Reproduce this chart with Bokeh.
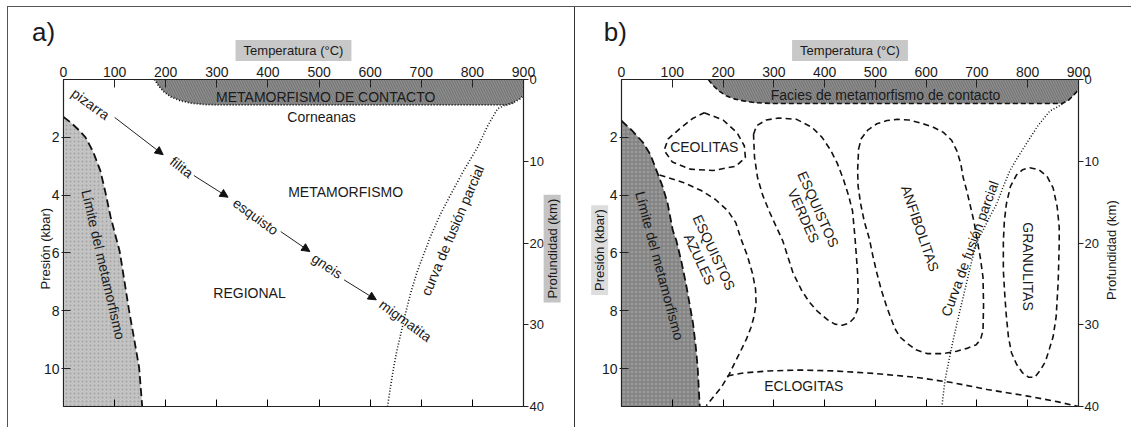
from bokeh.plotting import figure
from bokeh.models import (Range1d, LinearAxis, FixedTicker, Label, Arrow,
                          NormalHead, ColumnDataSource)
from bokeh.layouts import row
from bokeh.embed import file_html
from bokeh.resources import INLINE
from bokeh.core.properties import value

FONT = "Liberation Sans"
TXT = "#1a1a1a"

# ---------------- axes ----------------
temp_ticks = [0, 100, 200, 300, 400, 500, 600, 700, 800, 900]
inner_ticks = [100, 200, 300, 400, 500, 600, 700, 800]
pres_ticks = [2, 4, 6, 8, 10]
depth_ticks = [0, 10, 20, 30, 40]
T_MAX = 900
P_MAX = 11.31
D_MAX = 40

# ---------------- panel a data ----------------
a_limit_T = [0, 15, 30, 43, 58, 72, 82, 92, 101, 110, 119, 128, 138, 148, 154]
a_limit_P = [1.3, 1.5, 1.75, 2.0, 2.5, 3.15, 3.9, 4.74, 5.35, 5.95, 6.95, 7.96, 8.95, 9.97, 11.31]

a_contact_T = [178, 186, 196, 210, 228, 250, 280, 320, 865, 880, 893, 900]
a_contact_P = [0.0, 0.22, 0.42, 0.6, 0.73, 0.82, 0.87, 0.88, 0.88, 0.8, 0.67, 0.55]

a_melt_T = [880, 862, 849, 830, 810, 783, 760, 738, 720, 705, 691, 679, 669, 660, 652, 646, 640, 634]
a_melt_P = [0.82, 0.9, 1.02, 1.6, 2.35, 3.15, 3.9, 4.64, 5.35, 6.03, 6.7, 7.4, 8.1, 8.79, 9.4, 9.96, 10.6, 11.31]

path_names = ["pizarra", "filita", "esquisto", "gneis", "migmatita"]
path_T = [53, 231, 376, 516, 669]
path_P = [0.85, 3.03, 4.74, 6.45, 8.34]
path_angle = [-36, -38, -36, -34, -36]

arrow_T0 = [100, 255, 425, 549]
arrow_P0 = [1.31, 3.32, 5.26, 6.93]
arrow_T1 = [195, 322, 482, 612]
arrow_P1 = [2.6, 4.07, 5.95, 7.62]

a_label_text = ["METAMORFISMO DE CONTACTO", "Corneanas", "METAMORFISMO", "REGIONAL",
                "Límite del metamorfismo", "curva de fusión parcial"]
a_label_T = [513, 505, 552, 364, 78, 761]
a_label_P = [0.6, 1.31, 3.88, 7.4, 6.4, 5.22]
a_label_angle = [0, 0, 0, 0, -77, 67]

# ---------------- panel b data ----------------
b_limit_T = [0, 3, 20, 42, 57, 69, 81, 91, 101, 108, 118, 127, 134, 141, 146, 150, 154]
b_limit_P = [1.42, 1.48, 1.75, 2.17, 2.6, 3.15, 3.7, 4.3, 5.22, 5.57, 6.3, 7.07, 7.75, 8.45, 9.2, 9.95, 11.31]

b_contact_T = [171, 180, 192, 206, 222, 240, 262, 295, 868, 880, 890, 900]
b_contact_P = [0.0, 0.2, 0.4, 0.56, 0.67, 0.74, 0.8, 0.83, 0.83, 0.72, 0.55, 0.35]

b_melt_T = [868, 855, 843, 820, 798, 780, 765, 752, 739, 725, 712, 700, 688, 676, 665, 653, 645, 637, 631]
b_melt_P = [0.85, 0.98, 1.1, 1.6, 2.2, 2.7, 3.15, 3.7, 4.3, 4.75, 5.22, 5.6, 6.4, 7.3, 8.1, 9.03, 9.7, 10.41, 11.31]

ceol_T = [163, 200, 228, 242, 244, 225, 180, 135, 100, 84, 92, 115, 140, 163]
ceol_P = [1.15, 1.4, 1.85, 2.3, 2.7, 3.0, 3.15, 3.1, 2.85, 2.45, 2.05, 1.7, 1.35, 1.15]

azul_T = [75, 120, 157, 185, 209, 225, 235, 248, 258, 264, 265, 261, 255, 246, 235, 223, 212, 196, 180, 167]
azul_P = [3.3, 3.55, 3.84, 4.15, 4.53, 4.95, 5.5, 6.1, 6.71, 7.25, 7.75, 8.2, 8.58, 8.98, 9.38, 9.8, 10.2, 10.66, 11.0, 11.28]

verd_T = [260, 266, 285, 310, 345, 375, 395, 412, 425, 437, 447, 455, 460, 465, 466, 465, 458, 448, 435, 420, 405, 385, 370, 355, 338, 318, 305, 292, 278, 268, 262, 260]
verd_P = [1.9, 1.6, 1.4, 1.33, 1.38, 1.65, 2.0, 2.45, 2.9, 3.45, 4.0, 4.55, 5.5, 6.7, 7.4, 7.95, 8.25, 8.43, 8.5, 8.46, 8.3, 8.0, 7.7, 7.3, 6.7, 5.6, 5.1, 4.6, 4.0, 3.4, 2.7, 1.9]

anf_T = [467, 472, 485, 503, 523, 543, 566, 588, 612, 634, 650, 660, 668, 673, 680, 686, 694, 700, 707, 712, 713, 712, 707, 698, 680, 660, 634, 602, 580, 563, 548, 538, 523, 512, 503, 495, 488, 478, 471, 466, 465, 467]
anf_P = [2.4, 2.05, 1.75, 1.53, 1.42, 1.38, 1.4, 1.5, 1.63, 1.83, 2.1, 2.45, 2.9, 3.4, 3.85, 4.3, 4.9, 5.5, 6.2, 6.85, 7.8, 8.68, 9.0, 9.18, 9.3, 9.4, 9.48, 9.48, 9.35, 9.13, 8.9, 8.6, 7.9, 7.3, 6.7, 6.1, 5.5, 4.9, 4.3, 3.7, 3.15, 2.4]

gran_T = [804, 822, 838, 850, 858, 862, 862, 860, 856, 850, 843, 835, 825, 814, 802, 790, 778, 768, 762, 758, 755, 752, 752, 754, 758, 766, 778, 790, 804]
gran_P = [3.05, 3.12, 3.35, 3.75, 4.4, 5.1, 5.7, 7.0, 8.2, 8.9, 9.3, 9.75, 10.05, 10.3, 10.3, 10.15, 9.85, 9.45, 8.9, 8.2, 7.5, 6.6, 5.6, 4.9, 4.3, 3.7, 3.3, 3.12, 3.05]

eclo_T = [209, 240, 290, 350, 420, 500, 580, 650, 720, 800, 860, 900]
eclo_P = [10.25, 10.15, 10.08, 10.05, 10.08, 10.17, 10.3, 10.48, 10.72, 10.95, 11.15, 11.31]

b_label_text = ["Facies de metamorfismo de contacto", "CEOLITAS", "ESQUISTOS\nAZULES",
                "ESQUISTOS\nVERDES", "ANFIBOLITAS", "GRANULITAS", "ECLOGITAS",
                "Límite del metamorfismo", "Curva de fusión parcial"]
b_label_T = [520, 163, 168, 373, 588, 800, 359, 75, 686]
b_label_P = [0.55, 2.35, 6.1, 4.6, 5.15, 6.47, 10.6, 6.44, 5.85]
b_label_angle = [0, 0, -65, -66, -71, -90, 0, -75, 70]


def base_figure(width, left, right):
    p = figure(width=width, height=420, output_backend="svg", toolbar_location=None,
               x_range=Range1d(0, T_MAX), y_range=Range1d(P_MAX, 0),
               x_axis_location="above", min_border_left=left, min_border_right=right,
               min_border_top=72, min_border_bottom=21)
    p.extra_y_ranges = {"depth": Range1d(D_MAX, 0)}
    p.grid.visible = False
    p.outline_line_color = "#222222"
    p.outline_line_width = 1.2
    p.background_fill_color = "white"
    p.border_fill_color = "white"

    top = p.xaxis[0]
    top.ticker = FixedTicker(ticks=temp_ticks)
    top.major_tick_in = 8
    top.major_tick_out = 0
    top.minor_tick_line_color = None
    top.major_label_standoff = 3
    top.axis_line_color = "#222222"

    bottom = LinearAxis(ticker=FixedTicker(ticks=inner_ticks),
                        major_label_overrides={t: "" for t in inner_ticks},
                        major_tick_in=7, major_tick_out=0, minor_tick_line_color=None,
                        major_label_text_font_size="1px", axis_line_color="#222222")
    p.add_layout(bottom, "below")

    left_ax = p.yaxis[0]
    left_ax.ticker = FixedTicker(ticks=pres_ticks)
    left_ax.major_tick_in = 7
    left_ax.major_tick_out = 2
    left_ax.minor_tick_line_color = None
    left_ax.major_label_standoff = 2
    left_ax.axis_line_color = "#222222"

    right_ax = LinearAxis(y_range_name="depth", ticker=FixedTicker(ticks=depth_ticks),
                          major_tick_in=0, major_tick_out=5, minor_tick_line_color=None,
                          major_label_standoff=1, axis_line_color="#222222")
    p.add_layout(right_ax, "right")

    for ax in [top, left_ax, right_ax]:
        ax.major_label_text_font = FONT
        ax.major_label_text_font_size = "14px"
        ax.major_label_text_color = TXT
        ax.major_tick_line_color = "#222222"
    right_ax.major_label_text_font_size = "13px"
    return p


def side_label(p, side, text, x, y, angle, bg, size="13px", pad=1):
    lab = Label(x=x, y=y, text=text, angle=angle, angle_units="deg",
                text_align="center", text_baseline="middle",
                text_font=FONT, text_font_size=size, text_color=TXT,
                background_fill_color=bg, padding=pad)
    p.add_layout(lab, side)


# ================= panel a =================
pa = base_figure(567, 55, 52)

pa.varea(x=a_contact_T, y1=[0] * len(a_contact_T), y2=a_contact_P,
         fill_color="#8d8d8d", hatch_pattern="left_diagonal_line",
         hatch_color="#6a6a6a", hatch_scale=5, hatch_weight=0.8)
pa.line(a_contact_T, a_contact_P, line_color="#111111", line_width=1.8, line_dash="1 2")

pa.harea(y=a_limit_P, x1=[0] * len(a_limit_P), x2=a_limit_T,
         fill_color="#c3c3c3", hatch_pattern="dot", hatch_color="#a5a5a5", hatch_scale=4)
pa.line(a_limit_T, a_limit_P, line_color="#111111", line_width=1.8, line_dash="8 4")

pa.line(a_melt_T, a_melt_P, line_color="#111111", line_width=1.6, line_dash="1 2")

asrc = ColumnDataSource(dict(x0=arrow_T0, y0=arrow_P0, x1=arrow_T1, y1=arrow_P1))
pa.add_layout(Arrow(end=NormalHead(size=8, fill_color="#111111", line_color="#111111"),
                    x_start="x0", y_start="y0", x_end="x1", y_end="y1",
                    source=asrc, line_width=1, line_color="#222222"))

psrc = ColumnDataSource(dict(x=path_T, y=path_P, text=path_names, angle=path_angle))
pa.text(x="x", y="y", text="text", angle="angle", angle_units="deg", source=psrc,
        text_font=value(FONT), text_font_size="14px", text_align="center",
        text_baseline="middle", text_color=TXT)

lsrc_a = ColumnDataSource(dict(x=a_label_T, y=a_label_P, text=a_label_text, angle=a_label_angle))
pa.text(x="x", y="y", text="text", angle="angle", angle_units="deg", source=lsrc_a,
        text_font=value(FONT), text_font_size="14px", text_align="center",
        text_baseline="middle", text_color=TXT)

side_label(pa, "above", "Temperatura (°C)", 450, -1.0, 0, "#c8c8c8", pad=(8, 3))
side_label(pa, "left", "Presión (kbar)", -35, 5.85, 90, None)
side_label(pa, "right", "Profundidad (km)", 956, 5.85, 90, "#c4c4c4", pad=(4, 1))
side_label(pa, "above", "a)", -39, -1.63, 0, None, size="26px")

# ================= panel b =================
pb = base_figure(556, 44, 53)

pb.varea(x=b_contact_T, y1=[0] * len(b_contact_T), y2=b_contact_P,
         fill_color="#8d8d8d", hatch_pattern="left_diagonal_line",
         hatch_color="#6a6a6a", hatch_scale=5, hatch_weight=0.8)
pb.line(b_contact_T, b_contact_P, line_color="#111111", line_width=1.6, line_dash="5 3")

pb.harea(y=b_limit_P, x1=[0] * len(b_limit_P), x2=b_limit_T,
         fill_color="#9a9a9a", hatch_pattern="cross", hatch_color="#7a7a7a", hatch_scale=4)
pb.line(b_limit_T, b_limit_P, line_color="#111111", line_width=1.8, line_dash="8 4")

for xs, ys in [(ceol_T, ceol_P), (azul_T, azul_P), (verd_T, verd_P),
               (anf_T, anf_P), (gran_T, gran_P), (eclo_T, eclo_P)]:
    pb.line(xs, ys, line_color="#111111", line_width=1.6, line_dash="6 4")

pb.line(b_melt_T, b_melt_P, line_color="#111111", line_width=1.5, line_dash="1 2")

lsrc_b = ColumnDataSource(dict(x=b_label_T, y=b_label_P, text=b_label_text, angle=b_label_angle))
pb.text(x="x", y="y", text="text", angle="angle", angle_units="deg", source=lsrc_b,
        text_font=value(FONT), text_font_size="14px", text_align="center",
        text_baseline="middle", text_color=TXT, text_line_height=1.0)

side_label(pb, "above", "Temperatura (°C)", 450, -1.0, 0, "#c8c8c8", pad=(8, 3))
side_label(pb, "left", "Presión (kbar)", -43, 5.9, 90, "#dddddd", pad=(4, 1))
side_label(pb, "right", "Profundidad (km)", 965, 5.9, 90, None)
side_label(pb, "above", "b)", -12, -1.63, 0, None, size="26px")

pa.styles = {"border-right": "1px solid #333333"}
layout = row(pa, pb, styles={"border-top": "1px solid #555555",
                             "border-left": "1px solid #555555",
                             "margin-top": "6px", "margin-left": "7px"})

open("out.html", "w").write(file_html(layout, INLINE))
